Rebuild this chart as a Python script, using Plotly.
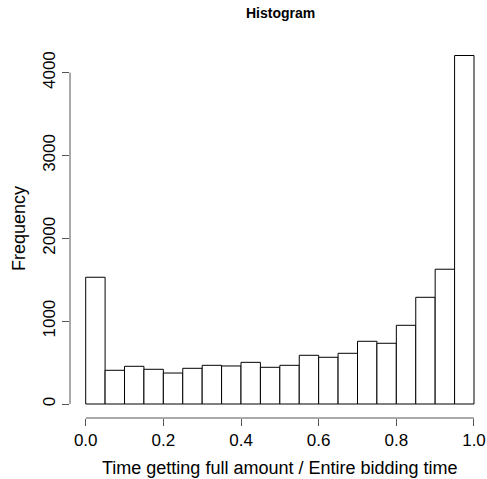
import plotly.graph_objects as go

bin_left = [0.00, 0.05, 0.10, 0.15, 0.20, 0.25, 0.30, 0.35, 0.40, 0.45,
            0.50, 0.55, 0.60, 0.65, 0.70, 0.75, 0.80, 0.85, 0.90, 0.95]
counts = [1530, 407, 455, 419, 374, 431, 467, 459, 503, 443,
          467, 588, 564, 612, 757, 733, 950, 1288, 1627, 4207]
bin_width = 0.05
x_ticks = [0.0, 0.2, 0.4, 0.6, 0.8, 1.0]
x_tick_labels = ["0.0", "0.2", "0.4", "0.6", "0.8", "1.0"]
y_ticks = [0, 1000, 2000, 3000, 4000]
y_tick_labels = ["0", "1000", "2000", "3000", "4000"]

W, H = 487, 479
ML, MR, MT, MB = 70, 0, 42, 61
PW, PH = W - ML - MR, H - MT - MB

def px_x(px):
    return (px - ML) / PW

def px_y(py):
    return (H - MB - py) / PH

FONT = "Liberation Sans, Arial, Helvetica, sans-serif"
AX = "#555555"

fig = go.Figure()
fig.add_trace(go.Bar(
    x=[b + bin_width / 2 for b in bin_left],
    y=counts,
    width=bin_width,
    marker=dict(color="white", line=dict(color="black", width=1)),
    showlegend=False,
    hoverinfo="skip",
))

fig.update_layout(
    width=W, height=H,
    margin=dict(l=ML, r=MR, t=MT, b=MB, pad=0),
    paper_bgcolor="white", plot_bgcolor="white",
    font=dict(family=FONT, size=17, color="black"),
    bargap=0,
    xaxis=dict(range=[-0.0404, 1.0335], showgrid=False, zeroline=False, showline=False,
               tickmode="array", tickvals=x_ticks, ticktext=x_tick_labels,
               ticks="outside", ticklen=7, tickcolor=AX, tickwidth=1,
               tickfont=dict(size=17, family=FONT)),
    yaxis=dict(range=[-169, 4370], showgrid=False, zeroline=False, showline=False,
               tickmode="array", tickvals=y_ticks, ticktext=y_tick_labels,
               ticks="outside", ticklen=7, tickcolor=AX, tickwidth=1, tickangle=-90,
               tickfont=dict(size=17, family=FONT)),
    shapes=[
        dict(type="line", xref="x", yref="paper", x0=x_ticks[0], x1=x_ticks[-1], y0=0, y1=0,
             line=dict(color=AX, width=1)),
        dict(type="line", xref="paper", yref="y", x0=0, x1=0, y0=y_ticks[0], y1=y_ticks[-1],
             line=dict(color=AX, width=1)),
    ],
    annotations=[
        dict(text="<b>Histogram</b>", xref="paper", yref="paper", x=px_x(280), y=px_y(13),
             xanchor="center", yanchor="middle", showarrow=False,
             font=dict(size=14, family=FONT)),
        dict(text="Time getting full amount / Entire bidding time", xref="paper", yref="paper",
             x=px_x(280), y=px_y(468), xanchor="center", yanchor="middle", showarrow=False,
             font=dict(size=18, family=FONT)),
        dict(text="Frequency", xref="paper", yref="paper", x=px_x(19), y=px_y(229),
             xanchor="center", yanchor="middle", showarrow=False, textangle=-90,
             font=dict(size=18, family=FONT)),
    ],
)

fig.write_html("out.html",
               config={"displayModeBar": False, "staticPlot": True},
               post_script="document.body.style.margin='0';document.body.style.overflow='hidden';")
